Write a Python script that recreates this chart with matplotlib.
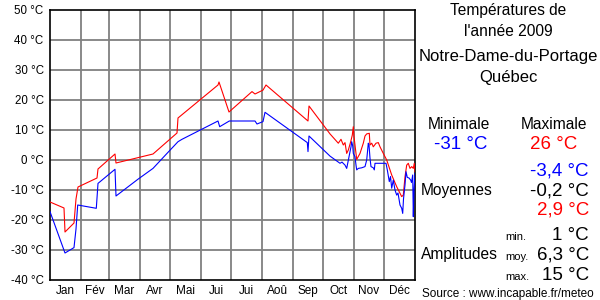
import matplotlib
matplotlib.use("Agg")
import matplotlib.pyplot as plt

plt.rcParams['font.family'] = ['Liberation Sans', 'DejaVu Sans']

# ---- data (day of year, temperature °C) ----
month_labels = ["Jan", "Fév", "Mar", "Avr", "Mai", "Jui", "Jui", "Aoû", "Sep", "Oct", "Nov", "Déc"]
month_days = [31, 28, 31, 30, 31, 30, 31, 31, 30, 31, 30, 31]
y_ticks = [-40, -30, -20, -10, 0, 10, 20, 30, 40, 50]

max_days = [0, 14, 15, 24, 26, 28, 47, 48, 65, 66, 103, 127, 128, 168, 169, 179,
            202, 205, 213, 216, 258, 259, 280, 288.3, 291, 293.3, 295, 296.7,
            298.3, 300.7, 302.3, 303.3, 304, 306.7, 310, 313.3, 315, 316.7, 319.3,
            320, 321.7, 323.3, 326, 328.3, 330, 333.3, 336.7, 341.7, 346.7, 351.7,
            353.3, 355, 356.7, 358.3, 360, 361.7, 363.3, 364.3, 365]
max_vals = [-14, -16, -24, -21, -13, -9, -6, -3, 2, -1, 2, 9, 14, 25, 26, 16,
            22.8, 22, 23.3, 25, 13, 18, 8.7, 5.6, 6.9, 5, 5.8, 2.2,
            3.3, 6.1, 8.3, 11.1, 7.8, 0.2, 2.2, 5.6, 8, 8.7, 8.9,
            5, 5.6, 4.4, 5.6, 5.8, 4.4, 2.2, 0, -5, -8.9, -12.2,
            -11.7, -5.6, -1.7, -1.1, -2.8, -2.2, -2.8, -1.1, -4]

min_days = [0, 15, 24, 26, 27.7, 46.3, 48, 65, 66, 88, 103, 117, 128, 132, 168,
            169.7, 179.3, 205, 207, 213, 215, 257.3, 258, 259, 280, 290, 292, 295,
            296.7, 301, 301.7, 302.7, 303.3, 305, 306, 306.7, 308.3, 311.7, 315,
            316.7, 318.3, 319, 320, 321, 323.3, 324.3, 325, 336, 337.3, 339.3,
            340.5, 341.7, 343.3, 345, 346.7, 348, 350, 351.7, 352.7, 353.5, 355,
            356, 357.3, 359, 360.7, 361.5, 362.7, 363.3, 364, 365]
min_vals = [-17.2, -31, -29.2, -23, -15, -16.1, -7.8, -3.1, -12, -6.4, -2.8, 2.2, 6.1, 6.9, 13,
            11.1, 13, 13, 12, 12.8, 15.9, 5.8, 2.8, 8, 1.3, -1.1, -0.7, -1.7,
            -2.8, 4.4, 6.1, 4.7, 2.2, 1.1, -1.7, -3.3, -2.8, -2.6, -2.2,
            0, 5.6, 5, 0.6, -2.2, -2.6, -3.3, -1.1, -1.1, -3.3, -7.2,
            -5.5, -9.4, -6.7, -10, -11.7, -11, -15, -16.1, -17.8, -13, -8.3,
            -3.9, -5.8, -6, -6.7, -7.5, -5, -18.9, -10, -4.4]

title_lines = ["Températures de", "l'année 2009", "Notre-Dame-du-Portage", "Québec"]
stat_min = "-31 °C"
stat_max = "26 °C"
moy_vals = ["-3,4 °C", "-0,2 °C", "2,9 °C"]
amp_labels = ["min.", "moy.", "max."]
amp_vals = ["1 °C", "6,3 °C", "15 °C"]
source = "Source : www.incapable.fr/meteo"

# ---- figure ----
W, H = 600, 300
fig = plt.figure(figsize=(6, 3), dpi=100)
fig.patch.set_facecolor("white")
ax = fig.add_axes([50 / W, 1 - 280 / H, 365 / W, 270 / H])

bounds = [0]
for d in month_days:
    bounds.append(bounds[-1] + d)
mids = [(bounds[i] + bounds[i + 1]) / 2 for i in range(12)]

ax.set_xlim(0, 365)
ax.set_ylim(-40, 50)
for b in bounds[1:-1]:
    ax.axvline(b, color="#808080", lw=1.3, zorder=1)
for t in y_ticks[1:-1]:
    ax.axhline(t, color="#808080", lw=1.3, zorder=1)

ax.plot(max_days, max_vals, color="#ff0000", lw=0.8, zorder=3)
ax.plot(min_days, min_vals, color="#0000ff", lw=0.8, zorder=3)

ax.set_xticks(mids)
ax.set_xticklabels(month_labels, fontsize=8.5)
ax.set_yticks(y_ticks)
ax.set_yticklabels([f"{t} °C" for t in y_ticks], fontsize=8.3)
ax.tick_params(axis="both", length=0)
ax.tick_params(axis="y", pad=4.5)
ax.tick_params(axis="x", pad=3.5)
for s in ax.spines.values():
    s.set_color("black")
    s.set_linewidth(1.2)


def T(x, y, s, **kw):
    fig.text(x / W, 1 - y / H, s, va="baseline", **kw)


cx = 508
T(cx, 15, title_lines[0], ha="center", fontsize=11.2)
T(cx, 35.5, title_lines[1], ha="center", fontsize=11.2)
T(cx, 61.5, title_lines[2], ha="center", fontsize=12)
T(cx, 81.5, title_lines[3], ha="center", fontsize=12)

T(459, 129, "Minimale", ha="center", fontsize=11.2)
T(554, 129, "Maximale", ha="center", fontsize=11.2)
T(461, 149, stat_min, ha="center", fontsize=13.5, color="#0000ff")
T(554, 149, stat_max, ha="center", fontsize=13.5, color="#ff0000")

T(421, 195, "Moyennes", ha="left", fontsize=11.2)
moy_colors = ["#0000ff", "black", "#ff0000"]
for v, c, y in zip(moy_vals, moy_colors, [175, 195, 214.5]):
    T(589, y, v, ha="right", fontsize=13.5, color=c)

T(421, 259.5, "Amplitudes", ha="left", fontsize=11.2)
for lab, v, y in zip(amp_labels, amp_vals, [240, 259.5, 279.5]):
    T(505.5, y, lab, ha="left", fontsize=8)
    T(589, y, v, ha="right", fontsize=13.5)

T(421.5, 297.5, source, ha="left", fontsize=8.5)

fig.savefig("out.png", dpi=100)
